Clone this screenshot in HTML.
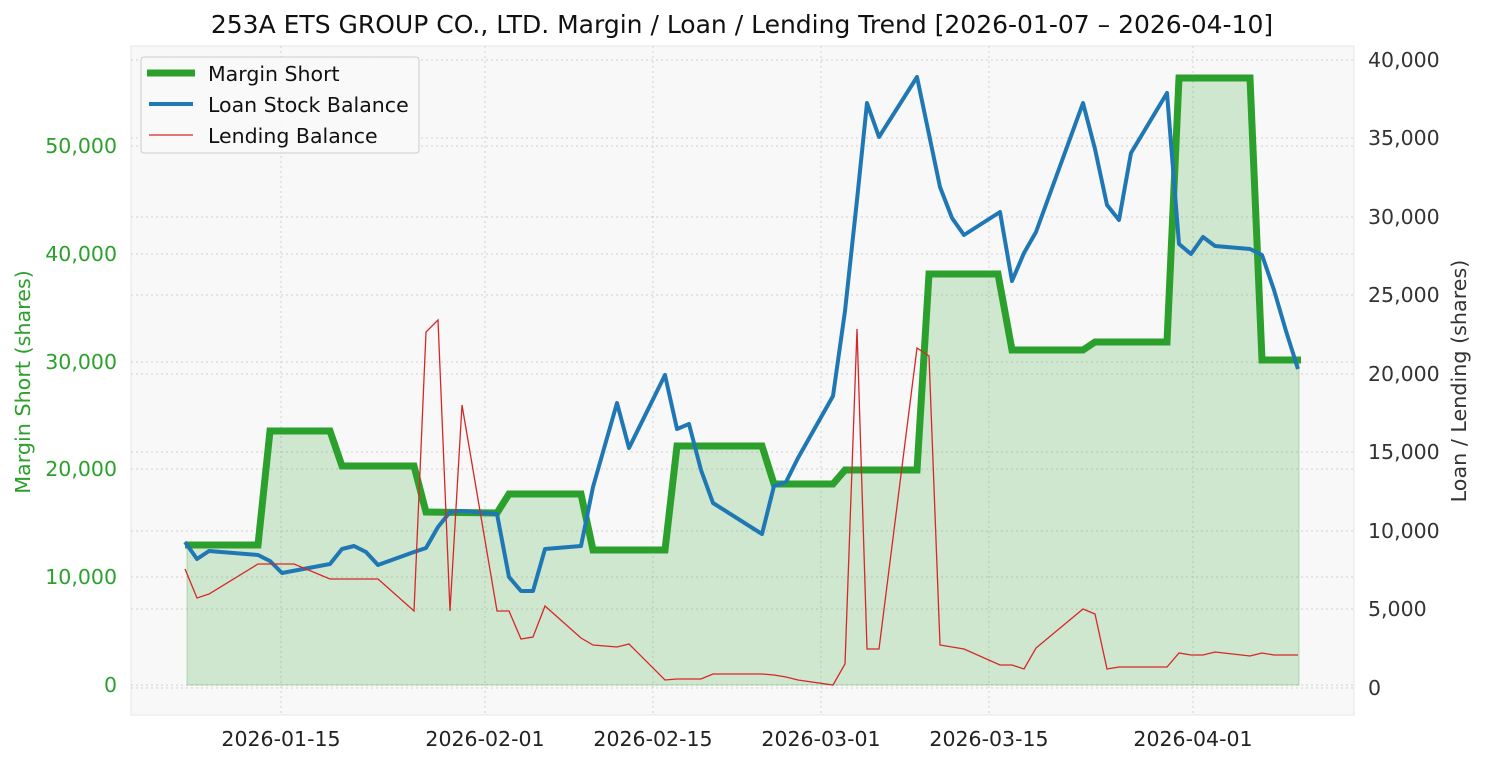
<!DOCTYPE html>
<html><head><meta charset="utf-8"><style>html,body{margin:0;padding:0;background:#fff}svg{display:block}text{font-family:"DejaVu Sans","Liberation Sans",sans-serif}</style></head><body>
<svg width="1485" height="765" viewBox="0 0 1485 765" xmlns="http://www.w3.org/2000/svg">
<rect x="131" y="46" width="1223" height="669" fill="#f8f8f8" stroke="#e6e6e6"/>
<g stroke="#d0d0d0" stroke-dasharray="2,3" stroke-width="1">
<line x1="131" x2="1354" y1="685" y2="685"/><line x1="131" x2="1354" y1="577" y2="577"/><line x1="131" x2="1354" y1="469" y2="469"/><line x1="131" x2="1354" y1="362" y2="362"/><line x1="131" x2="1354" y1="254" y2="254"/><line x1="131" x2="1354" y1="146" y2="146"/>
<line x1="131" x2="1354" y1="688" y2="688"/><line x1="131" x2="1354" y1="609" y2="609"/><line x1="131" x2="1354" y1="531" y2="531"/><line x1="131" x2="1354" y1="452" y2="452"/><line x1="131" x2="1354" y1="374" y2="374"/><line x1="131" x2="1354" y1="295" y2="295"/><line x1="131" x2="1354" y1="217" y2="217"/><line x1="131" x2="1354" y1="138" y2="138"/><line x1="131" x2="1354" y1="60" y2="60"/>
<line x1="281" x2="281" y1="46" y2="715"/><line x1="485" x2="485" y1="46" y2="715"/><line x1="653" x2="653" y1="46" y2="715"/><line x1="821" x2="821" y1="46" y2="715"/><line x1="989" x2="989" y1="46" y2="715"/><line x1="1193" x2="1193" y1="46" y2="715"/>
</g>
<polygon fill="#2ca02c" fill-opacity="0.2" stroke="#2ca02c" stroke-opacity="0.3" points="187,685 187,545 258,545 270,431 330,431 342,466 414,466 426,512 497,513 509,494 581,494 593,550 665,550 677,446 762,446 774,484 833,484 845,470 917,470 929,274 998,274 1012,350 1083,350 1095,342 1167,342 1179,78 1250,78 1262,360 1299,360 1299,685"/>
<polyline fill="none" stroke="#2ca02c" stroke-width="7" points="185,545 258,545 270,431 330,431 342,466 414,466 426,512 497,513 509,494 581,494 593,550 665,550 677,446 762,446 774,484 833,484 845,470 917,470 929,274 998,274 1012,350 1083,350 1095,342 1167,342 1179,78 1250,78 1262,360 1301,360"/>
<polyline fill="none" stroke="#1f77b4" stroke-width="4" stroke-linejoin="round" points="185,542 197,559 209,551 258,555 270,561 282,573 330,564 342,549 354,546 366,552 378,565 414,552 426,548 438,527 450,512 462,511 497,514 509,577 521,591 533,591 545,549 581,546 593,487 617,403 629,448 665,375 677,429 689,424 701,470 713,503 762,534 774,486 786,482 798,458 833,396 845,311 857,200 867,103 879,137 917,77 940,187 952,218 964,235 1000,212 1012,281 1024,253 1036,232 1083,103 1095,149 1107,205 1119,220 1131,153 1167,93 1179,244 1191,254 1203,237 1215,246 1250,249 1262,255 1274,290 1286,331 1298,369"/>
<polyline fill="none" stroke="#d62728" stroke-width="1.3" points="185,569 197,598 209,594 258,564 294,564 330,579 378,579 414,611 426,332 438,320 450,611 462,405 497,611 509,611 521,639 533,637 545,606 581,638 593,645 617,647 629,644 665,680 677,679 701,679 713,674 762,674 774,675 786,677 798,680 833,685 845,664 857,329 867,649 879,649 917,348 929,356 940,645 964,649 1000,665 1012,665 1024,669 1036,648 1083,609 1095,614 1107,669 1119,667 1167,667 1179,653 1191,655 1203,655 1215,652 1250,656 1262,653 1274,655 1298,655"/>
<g font-size="20.5" fill="#2ca02c" text-anchor="end">
<text x="117" y="692">0</text><text x="117" y="584">10,000</text><text x="117" y="476">20,000</text><text x="117" y="369">30,000</text><text x="117" y="261">40,000</text><text x="117" y="153">50,000</text>
</g>
<g font-size="20.5" fill="#333" text-anchor="start">
<text x="1368" y="695">0</text><text x="1368" y="616">5,000</text><text x="1368" y="538">10,000</text><text x="1368" y="459">15,000</text><text x="1368" y="381">20,000</text><text x="1368" y="302">25,000</text><text x="1368" y="224">30,000</text><text x="1368" y="145">35,000</text><text x="1368" y="67">40,000</text>
</g>
<g font-size="20.5" fill="#222" text-anchor="middle">
<text x="281" y="746">2026-01-15</text><text x="485" y="746">2026-02-01</text><text x="653" y="746">2026-02-15</text><text x="821" y="746">2026-03-01</text><text x="989" y="746">2026-03-15</text><text x="1193" y="746">2026-04-01</text>
</g>
<text x="30" y="382" font-size="20.7" fill="#2ca02c" text-anchor="middle" transform="rotate(-90 30 382)">Margin Short (shares)</text>
<text x="1466" y="381" font-size="20.7" fill="#333" text-anchor="middle" transform="rotate(-90 1466 381)">Loan / Lending (shares)</text>
<text x="742" y="33" font-size="25" fill="#111" text-anchor="middle">253A ETS GROUP CO., LTD. Margin / Loan / Lending Trend [2026-01-07 – 2026-04-10]</text>
<rect x="141" y="57" width="278" height="96" rx="3" fill="#f8f8f8" fill-opacity="0.9" stroke="#cccccc"/>
<line x1="147" x2="195" y1="73" y2="73" stroke="#2ca02c" stroke-width="7"/>
<line x1="149" x2="193" y1="104" y2="104" stroke="#1f77b4" stroke-width="4"/>
<line x1="149" x2="193" y1="135" y2="135" stroke="#d62728" stroke-width="1.3"/>
<g font-size="20.5" fill="#111"><text x="208" y="81">Margin Short</text><text x="208" y="112">Loan Stock Balance</text><text x="208" y="143">Lending Balance</text></g>
</svg>
</body></html>
